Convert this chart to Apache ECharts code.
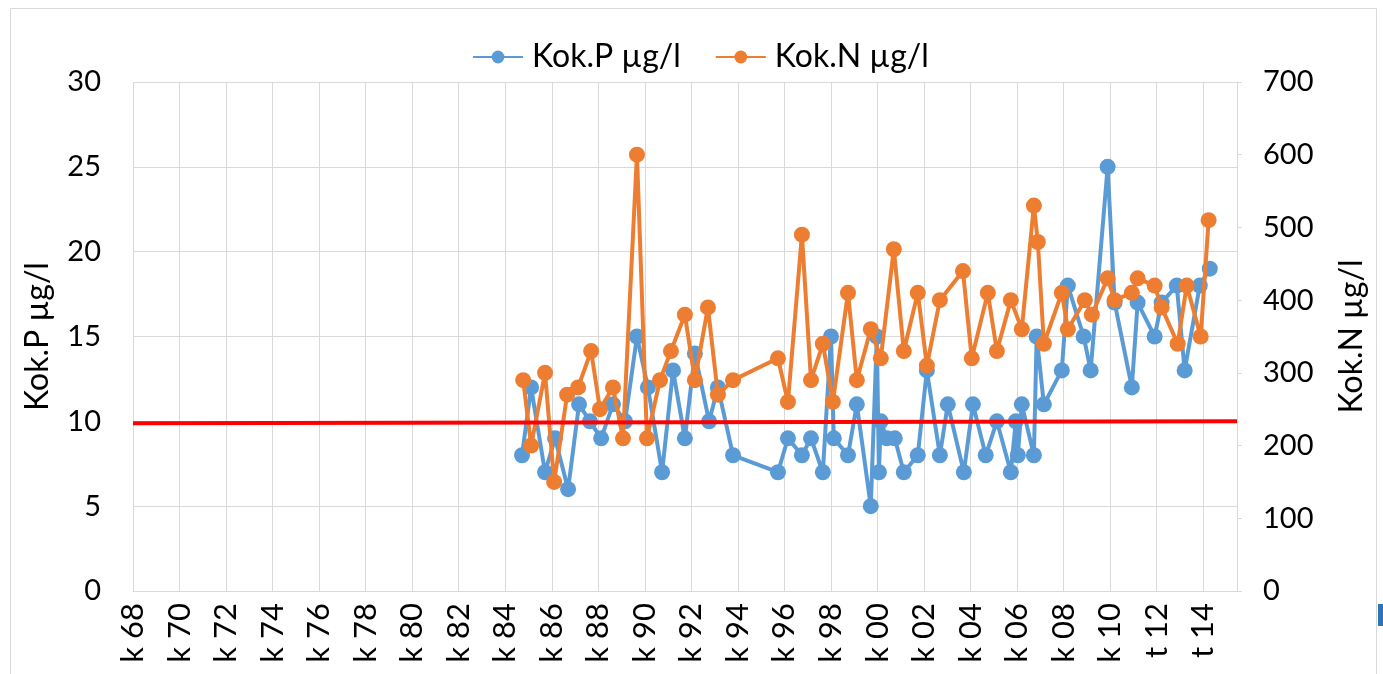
<!DOCTYPE html>
<html>
<head>
<meta charset="utf-8">
<script src="https://cdn.jsdelivr.net/npm/echarts@6/dist/echarts.min.js"></script>
<style>
html,body{margin:0;padding:0;background:#fff;}
#c{width:1383px;height:674px;}
</style>
</head>
<body>
<div id="c"></div>
<script>
// ---- data (decimal year, value) ----
const xTickLabels = ['k 68','k 70','k 72','k 74','k 76','k 78','k 80','k 82','k 84','k 86','k 88','k 90',
  'k 92','k 94','k 96','k 98','k 00','k 02','k 04','k 06','k 08','k 10','t 12','t 14'];

const pYears = [1984.72,1985.11,1985.71,1986.14,1986.70,1987.17,1987.64,1988.12,1988.63,1989.15,
  1989.66,1990.13,1990.74,1991.21,1991.72,1992.15,1992.76,1993.14,1993.79,1995.72,
  1996.15,1996.75,1997.14,1997.65,1998.00,1998.12,1998.73,1999.11,1999.71,1999.97,
  2000.06,2000.14,2000.40,2000.74,2001.13,2001.73,2002.12,2002.68,2003.02,2003.71,
  2004.10,2004.65,2005.13,2005.73,2005.94,2006.03,2006.20,2006.72,2006.84,2007.15,
  2007.92,2008.18,2008.86,2009.16,2009.89,2010.19,2010.93,2011.18,2011.91,2012.21,
  2012.86,2013.20,2013.85,2014.28];
const pValues = [8,12,7,9,6,11,10,9,11,10,
  15,12,7,13,9,14,10,12,8,7,
  9,8,9,7,15,9,8,11,5,15,
  7,10,9,9,7,8,13,8,11,7,
  11,8,10,7,10,8,11,8,15,11,
  13,18,15,13,25,17,12,17,15,17,
  18,13,18,19];

const nYears = [1984.77,1985.11,1985.71,1986.10,1986.66,1987.13,1987.69,1988.07,1988.63,1989.06,
  1989.66,1990.09,1990.65,1991.12,1991.72,1992.15,1992.71,1993.14,1993.79,1995.72,
  1996.15,1996.75,1997.14,1997.65,1998.08,1998.73,1999.11,1999.71,2000.14,2000.70,
  2001.13,2001.73,2002.12,2002.68,2003.67,2004.05,2004.74,2005.13,2005.73,2006.20,
  2006.72,2006.89,2007.15,2007.92,2008.18,2008.91,2009.21,2009.89,2010.19,2010.93,
  2011.18,2011.91,2012.21,2012.90,2013.29,2013.89,2014.23];
const nValues = [290,200,300,150,270,280,330,250,280,210,
  600,210,290,330,380,290,390,270,290,320,
  260,490,290,340,260,410,290,360,320,470,
  330,410,310,400,440,320,410,330,400,360,
  530,480,340,410,360,400,380,430,400,410,
  430,420,390,340,420,350,510];

const limitYears = [1968, 2015.45];
const limitValues = [9.88, 10.0];

const xMin = 1968, xMax = 2015.45;

const pairs = (xs, ys) => xs.map((x, i) => [x, ys[i]]);

const chart = echarts.init(document.getElementById('c'));
const F = 'Lato, "Open Sans", sans-serif';
chart.setOption({
  animation: false,
  backgroundColor: '#fff',
  graphic: [
    {type:'rect', shape:{x:10.5, y:8.5, width:1366, height:720}, style:{fill:'none', stroke:'#d9d9d9', lineWidth:1}, silent:true},
    {type:'rect', shape:{x:1378, y:604, width:6, height:22}, style:{fill:'#2e75b6'}, silent:true}
  ],
  legend: {
    data: ['Kok.P µg/l', 'Kok.N µg/l'],
    top: 36, left: 467,
    itemWidth: 50, itemHeight: 16, itemGap: 34,
    textStyle: {fontFamily: F, fontSize: 32, color: '#000', padding: [0, 0, 0, 4]}
  },
  grid: {left: 133, right: 146, top: 82, bottom: 83, containLabel: false},
  xAxis: {
    type: 'value', min: xMin, max: xMax, interval: 2,
    axisLine: {show: true, lineStyle: {color: '#d9d9d9', width: 1}},
    axisTick: {show: false},
    splitLine: {show: true, lineStyle: {color: '#d9d9d9', width: 1}},
    axisLabel: {
      rotate: 90, margin: 12, fontSize: 31, color: '#000',
      fontFamily: F,
      showMaxLabel: false,
      formatter: function (v) {
        const k = Math.round((v - xMin) / 2);
        if (Math.abs(xMin + 2 * k - v) > 1e-6) return '';
        return xTickLabels[k] || '';
      }
    }
  },
  yAxis: [
    {
      type: 'value', min: 0, max: 30, interval: 5, position: 'left',
      axisLine: {show: false}, axisTick: {show: false},
      splitLine: {show: true, lineStyle: {color: '#d9d9d9', width: 1}},
      axisLabel: {fontFamily: F, fontSize: 29, color: '#000', margin: 32},
      name: 'Kok.P µg/l', nameLocation: 'middle', nameRotate: 90, nameGap: 79,
      nameTextStyle: {fontFamily: F, fontSize: 32, color: '#000'}
    },
    {
      type: 'value', min: 0, max: 700, interval: 100, position: 'right',
      axisLine: {show: true, lineStyle: {color: '#d9d9d9', width: 1}},
      axisTick: {show: true, length: 5, lineStyle: {color: '#d9d9d9'}},
      splitLine: {show: false},
      axisLabel: {fontFamily: F, fontSize: 29, color: '#000', margin: 26},
      name: 'Kok.N µg/l', nameLocation: 'middle', nameRotate: 90, nameGap: 99,
      nameTextStyle: {fontFamily: F, fontSize: 32, color: '#000'}
    }
  ],
  series: [
    {
      name: 'Kok.P µg/l', type: 'line', yAxisIndex: 0,
      data: pairs(pYears, pValues),
      symbol: 'circle', symbolSize: 16,
      itemStyle: {color: '#5b9bd5'},
      lineStyle: {color: '#5b9bd5', width: 4},
      z: 2
    },
    {
      name: 'Kok.N µg/l', type: 'line', yAxisIndex: 1,
      data: pairs(nYears, nValues),
      symbol: 'circle', symbolSize: 16,
      itemStyle: {color: '#ed7d31'},
      lineStyle: {color: '#ed7d31', width: 4},
      z: 3
    },
    {
      name: 'limit', type: 'line', yAxisIndex: 0,
      data: pairs(limitYears, limitValues),
      symbol: 'none',
      lineStyle: {color: '#ff0000', width: 4},
      z: 4
    }
  ]
});
</script>
</body>
</html>
